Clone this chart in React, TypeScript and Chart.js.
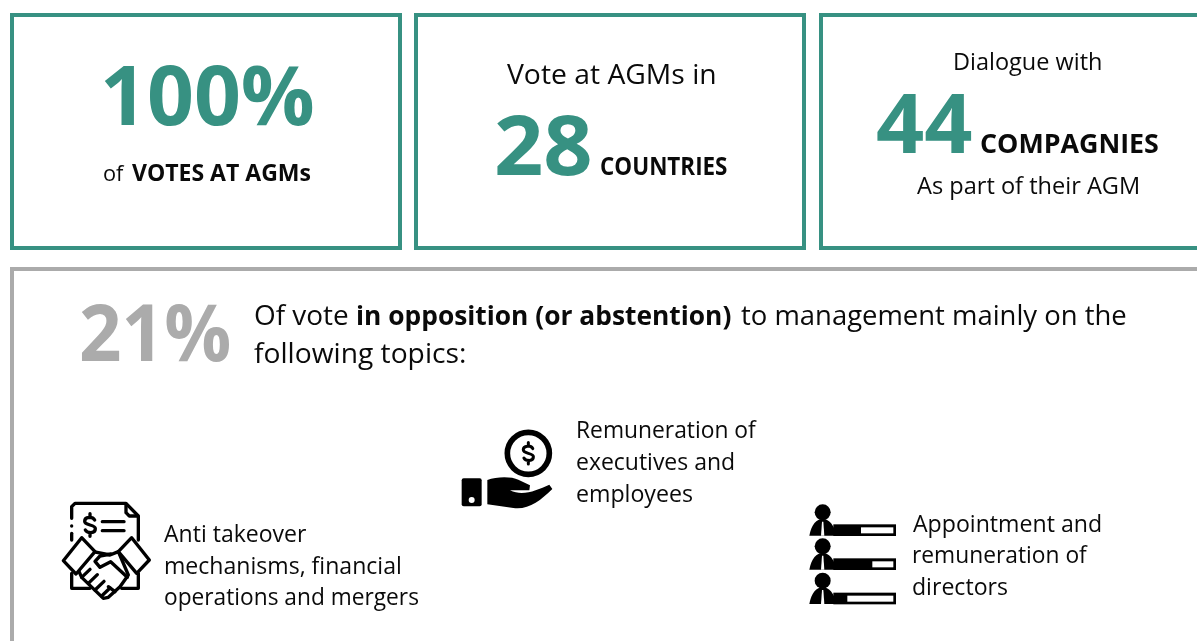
import React, { useEffect, useRef } from "react";
import { Chart, registerables } from "chart.js";

Chart.register(...registerables);

// ---- content ----
const votesShare = 100;
const countries = 28;
const companies = 44;
const oppositionShare = 21;
const headlineLabels = ["VOTES AT AGMs", "Vote at AGMs in", "COUNTRIES", "Dialogue with", "COMPAGNIES", "As part of their AGM"];
const oppositionRuns = ["Of vote", "in opposition (or abstention)", "to management mainly on the", "following topics:"];
const topicRemuneration = ["Remuneration of", "executives and", "employees"];
const topicTakeover = ["Anti takeover", "mechanisms, financial", "operations and mergers"];
const topicDirectors = ["Appointment and", "remuneration of", "directors"];

// ---- styling ----
const TEAL = "#379182";
const GREY = "#ababab";
const INK = "#0a0a0a";
const FONT = '"Open Sans", "Noto Sans", sans-serif';

type Run = [string, number, number, number, number, number, string];
// text, left, right, baseline, font size, weight, colour
const runs: Run[] = [
  [`${votesShare}%`, 104, 313, 125, 83, 700, TEAL],
  ["of", 104, 125, 181, 22, 400, INK],
  [headlineLabels[0], 132, 311, 181, 24, 700, INK],
  [headlineLabels[1], 507, 715, 84, 27, 400, INK],
  [`${countries}`, 497, 590, 175, 83, 700, TEAL],
  [headlineLabels[2], 601, 727, 175, 24.5, 700, INK],
  [headlineLabels[3], 955, 1101, 70, 23.5, 400, INK],
  [`${companies}`, 877, 972, 153, 83, 700, TEAL],
  [headlineLabels[4], 981, 1158, 153, 27, 700, INK],
  [headlineLabels[5], 917, 1138, 194, 23.5, 400, INK],
  [`${oppositionShare}%`, 81, 229, 361, 78, 700, GREY],
  [oppositionRuns[0], 255, 348, 325, 28, 400, INK],
  [oppositionRuns[1], 357, 731, 325, 27.5, 700, INK],
  [oppositionRuns[2], 741, 1126, 325, 28, 400, INK],
  [oppositionRuns[3], 254, 465, 363, 28, 400, INK],
  [topicRemuneration[0], 578, 757, 438, 23, 400, INK],
  [topicRemuneration[1], 577, 734, 470, 23, 400, INK],
  [topicRemuneration[2], 577, 692, 502, 23, 400, INK],
  [topicTakeover[0], 164, 307, 542, 23, 400, INK],
  [topicTakeover[1], 165, 400, 574, 23, 400, INK],
  [topicTakeover[2], 165, 418, 605, 23, 400, INK],
  [topicDirectors[0], 913, 1101, 532, 23, 400, INK],
  [topicDirectors[1], 913, 1088, 563, 23, 400, INK],
  [topicDirectors[2], 913, 1007, 595, 23, 400, INK],
];

// left, top, right, bottom of the outer edge
const panels: [number, number, number, number, string][] = [
  [10, 13, 402, 250, TEAL],
  [414, 13, 806, 250, TEAL],
  [819, 13, 1210, 250, TEAL],
  [10, 267, 1210, 660, GREY],
];

type P = [number, number];

function poly(ctx: CanvasRenderingContext2D, pts: P[], close = true) {
  ctx.beginPath();
  pts.forEach(([a, b], i) => (i ? ctx.lineTo(a, b) : ctx.moveTo(a, b)));
  if (close) ctx.closePath();
}

function dollar(ctx: CanvasRenderingContext2D, cx: number, cy: number, s: number) {
  ctx.beginPath();
  ctx.moveTo(cx + 14 * s, cy - 15 * s);
  ctx.bezierCurveTo(cx + 8 * s, cy - 26 * s, cx - 16 * s, cy - 26 * s, cx - 16 * s, cy - 11 * s);
  ctx.bezierCurveTo(cx - 16 * s, cy + 3 * s, cx + 16 * s, cy - 3 * s, cx + 16 * s, cy + 11 * s);
  ctx.bezierCurveTo(cx + 16 * s, cy + 26 * s, cx - 8 * s, cy + 26 * s, cx - 14 * s, cy + 15 * s);
  ctx.moveTo(cx, cy - 34 * s);
  ctx.lineTo(cx, cy - 22 * s);
  ctx.moveTo(cx, cy + 22 * s);
  ctx.lineTo(cx, cy + 34 * s);
  ctx.stroke();
}

function iconHandshake(ctx: CanvasRenderingContext2D) {
  ctx.lineWidth = 10;
  ctx.lineJoin = "round";
  ctx.lineCap = "round";
  ctx.strokeStyle = "#000";
  ctx.fillStyle = "#fff";
  // document
  poly(ctx, [[95, 85], [95, 50], [105, 40], [258, 40], [295, 78], [295, 150]], false);
  ctx.stroke();
  poly(ctx, [[258, 42], [258, 68], [268, 78], [293, 78]], false);
  ctx.stroke();
  poly(ctx, [[95, 130], [95, 150]], false);
  ctx.stroke();
  poly(ctx, [[95, 250], [95, 295], [150, 295]], false);
  ctx.stroke();
  poly(ctx, [[295, 250], [295, 295], [245, 295]], false);
  ctx.stroke();
  ctx.fillStyle = "#000";
  ctx.beginPath();
  ctx.arc(95, 108, 5, 0, Math.PI * 2);
  ctx.fill();
  ctx.fillStyle = "#fff";
  dollar(ctx, 150, 105, 1);
  poly(ctx, [[187, 95], [252, 95]], false);
  ctx.stroke();
  poly(ctx, [[187, 122], [252, 122]], false);
  ctx.stroke();
  // hands
  poly(ctx, [[160, 185], [210, 195], [235, 185], [265, 255], [240, 290], [205, 322], [190, 325], [125, 262], [115, 240]]);
  ctx.fill();
  ctx.stroke();
  poly(ctx, [[212, 192], [180, 198], [165, 214], [180, 232], [212, 215], [262, 262]], false);
  ctx.stroke();
  ([[125, 262, 150, 238], [145, 280, 172, 254], [165, 300, 192, 274], [185, 318, 210, 294]] as number[][]).forEach(([a, b, c, d]) => {
    poly(ctx, [[a, b], [c, d]], false);
    ctx.stroke();
  });
  poly(ctx, [[205, 290], [225, 305]], false);
  ctx.stroke();
  // cuffs
  poly(ctx, [[125, 143], [165, 185], [108, 252], [70, 212]]);
  ctx.fill();
  ctx.stroke();
  poly(ctx, [[275, 143], [328, 210], [290, 250], [235, 185]]);
  ctx.fill();
  ctx.stroke();
}

function iconHand(ctx: CanvasRenderingContext2D) {
  ctx.strokeStyle = "#000";
  ctx.fillStyle = "#000";
  ctx.lineCap = "round";
  ctx.lineWidth = 17;
  ctx.beginPath();
  ctx.arc(235, 115, 63, 0, Math.PI * 2);
  ctx.stroke();
  ctx.lineWidth = 9;
  dollar(ctx, 235, 115, 0.95);
  // cuff
  ctx.beginPath();
  ctx.roundRect(35, 190, 60, 84, 6);
  ctx.fill();
  ctx.fillStyle = "#fff";
  ctx.beginPath();
  ctx.arc(65, 255, 9, 0, Math.PI * 2);
  ctx.fill();
  ctx.fillStyle = "#000";
  // hand
  ctx.beginPath();
  ctx.moveTo(112, 195);
  ctx.bezierCurveTo(140, 184, 185, 184, 205, 194);
  ctx.lineTo(240, 211);
  ctx.lineTo(238, 226);
  ctx.lineTo(180, 226);
  ctx.bezierCurveTo(220, 245, 260, 225, 298, 209);
  ctx.lineTo(307, 222);
  ctx.bezierCurveTo(270, 258, 235, 285, 190, 279);
  ctx.lineTo(112, 268);
  ctx.closePath();
  ctx.fill();
}

function iconDirectors(ctx: CanvasRenderingContext2D) {
  const rows: [number, number][] = [[0, 183], [102, 217], [205, 142]];
  rows.forEach(([dy, whiteFrom]) => {
    ctx.fillStyle = "#000";
    ctx.beginPath();
    ctx.arc(68, 52 + dy, 24, 0, Math.PI * 2);
    ctx.fill();
    ctx.beginPath();
    ctx.moveTo(28, 122 + dy);
    ctx.bezierCurveTo(34, 88 + dy, 50, 72 + dy, 68, 72 + dy);
    ctx.bezierCurveTo(86, 72 + dy, 102, 88 + dy, 110, 122 + dy);
    ctx.closePath();
    ctx.fill();
    ctx.fillRect(100, 88 + dy, 188, 35);
    ctx.fillStyle = "#fff";
    ctx.fillRect(whiteFrom, 97 + dy, 280 - whiteFrom, 18);
    poly(ctx, [[66, 80 + dy], [70, 80 + dy], [73, 122 + dy], [63, 122 + dy]]);
    ctx.fill();
  });
}

// icon, origin x, origin y (icons are sketched at 3 units per pixel)
const icons: [(c: CanvasRenderingContext2D) => void, number, number][] = [
  [iconHandshake, 40, 490],
  [iconHand, 450, 415],
  [iconDirectors, 800, 495],
];

const infographic = {
  id: "infographic",
  afterDraw(chart: any) {
    const { ctx, scales } = chart;
    const X = (v: number) => scales.x.getPixelForValue(v);
    const Y = (v: number) => scales.y.getPixelForValue(v);
    ctx.save();
    panels.forEach(([l, t, r, b, c]) => {
      ctx.strokeStyle = c;
      ctx.lineWidth = 4;
      ctx.strokeRect(X(l) + 2, Y(t) + 2, X(r) - X(l) - 4, Y(b) - Y(t) - 4);
    });
    icons.forEach(([draw, ox, oy]) => {
      ctx.save();
      ctx.translate(X(ox), Y(oy));
      ctx.scale(1 / 3, 1 / 3);
      draw(ctx);
      ctx.restore();
    });
    ctx.textBaseline = "alphabetic";
    ctx.textAlign = "left";
    runs.forEach(([text, l, r, base, size, weight, colour]) => {
      ctx.save();
      ctx.font = `${weight} ${size}px ${FONT}`;
      ctx.fillStyle = colour;
      const natural = ctx.measureText(text);
      const left = natural.actualBoundingBoxLeft ?? 0;
      const ink = natural.actualBoundingBoxRight + left;
      ctx.translate(X(l), Y(base));
      ctx.scale((X(r) - X(l)) / ink, 1);
      ctx.fillText(text, left, 0);
      ctx.restore();
    });
    ctx.restore();
  },
};

export default function App() {
  const ref = useRef<HTMLCanvasElement>(null);
  useEffect(() => {
    document.body.style.margin = "0";
    document.body.style.background = "#fff";
    const chart = new Chart(ref.current!, {
      type: "scatter",
      data: { datasets: [{ data: [] }] },
      options: {
        animation: false,
        responsive: false,
        events: [],
        layout: { padding: 0 },
        plugins: { legend: { display: false }, tooltip: { enabled: false }, title: { display: false } },
        scales: {
          x: { type: "linear", min: 0, max: 1197, display: false },
          y: { type: "linear", min: 0, max: 641, reverse: true, display: false },
        },
      },
      plugins: [infographic],
    } as any);
    return () => chart.destroy();
  }, []);
  return <canvas ref={ref} width={1197} height={641} style={{ display: "block" }} />;
}
